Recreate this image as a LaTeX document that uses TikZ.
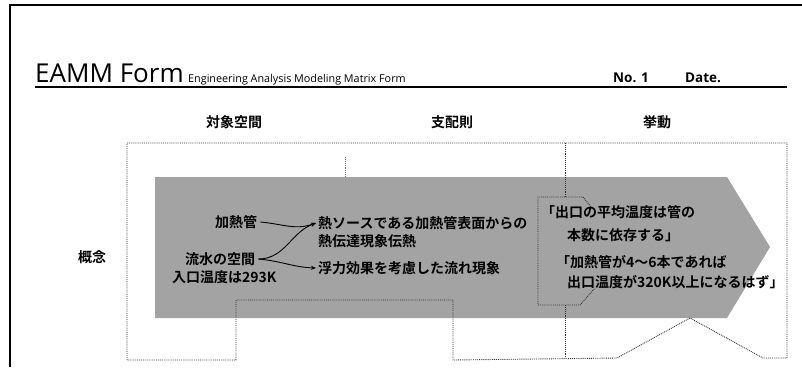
\documentclass[tikz,border=0pt]{standalone}
\usepackage{fontspec}
\setmainfont{Open Sans}
\newfontfamily\jpfont{Noto Sans CJK JP}[BoldFont={Noto Sans CJK JP Bold}]
\usetikzlibrary{arrows.meta, positioning}

\begin{document}
\begin{tikzpicture}[x=1pt, y=-1pt,
    jp/.style={font=\jpfont\bfseries\fontsize{14}{16}\selectfont, inner sep=0pt, anchor=west},
    head/.style={font=\jpfont\bfseries\fontsize{14}{16}\selectfont, inner sep=0pt},
    boxline/.style={black!80, line width=0.9pt, densely dotted},
    arr/.style={-{Stealth[length=5pt, width=4pt]}, line width=0.9pt}]
\useasboundingbox (0,0) rectangle (802,367);
\fill[white] (0,0) rectangle (802,367);
% frame and title
\draw[line width=1.3pt] (10,367) -- (10,5) -- (802,5);
\node[anchor=base west, inner sep=0pt, font=\fontsize{26}{28}\selectfont] (title) at (35,82) {EAMM Form};
\node[anchor=base west, inner sep=0pt, font=\fontsize{10.8}{12}\selectfont] (subtitle) at (188,82) {Engineering Analysis Modeling Matrix Form};
\node[anchor=base west, inner sep=0pt, font=\bfseries\fontsize{13.5}{15}\selectfont] (no) at (613,82) {No. 1};
\node[anchor=base west, inner sep=0pt, font=\bfseries\fontsize{13.5}{15}\selectfont] (date) at (685,82) {Date.};
\draw[line width=1.6pt] (35,87) -- (787,87);
% column heads
\node[head] (space) at (234,122) {対象空間};
\node[head] (law) at (452,122) {支配則};
\node[head] (behav) at (657,122) {挙動};
\node[head] (concept) at (92,257) {概念};
% gray arrow
\fill[black!36] (155,177) -- (727,177) -- (770,247) -- (727,318) -- (155,318) -- cycle;
% matrix box
\draw[boxline] (127,143) -- (787,143) -- (787,358) -- (763,358) -- (690,318) -- (617,358)
    -- (453,360) -- (453,300) -- (236,300) -- (236,360) -- (127,360) -- cycle;
\draw[boxline] (565,143) -- (565,197);
\draw[boxline] (565,305) -- (565,358);
\draw[boxline, black!50] (345,157) -- (345,177);
\draw[boxline] (592,208) -- (583,197) -- (538,197) -- (538,305) -- (580,305) -- (595,288);
% texts
\node[jp] (kanetsu) at (215,222) {加熱管};
\node[jp] (ryusui) at (185,259) {流水の空間};
\node[jp] (inlet) at (172,277) {入口温度は293K};
\node[jp] (netsu) at (318,223) {熱ソースである加熱管表面からの};
\node[jp] (dentatsu) at (318,241) {熱伝達現象伝熱};
\node[jp] (furyoku) at (318,268) {浮力効果を考慮した流れ現象};
\node[jp] (mean1) at (541,212) {「出口の平均温度は管の};
\node[jp] (mean2) at (567,235) {本数に依存する」};
\node[jp] (tube1) at (556,262) {「加熱管が4～6本であれば};
\node[jp] (tube2) at (567,282) {出口温度が320K以上になるはず」};
% connectors
\draw[arr] ([xshift=3pt]kanetsu.east) to[out=-5, in=200] ([xshift=-2pt]netsu.west);
\draw[arr] ([xshift=3pt]ryusui.east) to[out=0, in=200] ([xshift=-2pt]netsu.west);
\draw[arr] ([xshift=3pt]ryusui.east) to[out=-5, in=178] ([xshift=-2pt]furyoku.west);
\end{tikzpicture}
\end{document}
